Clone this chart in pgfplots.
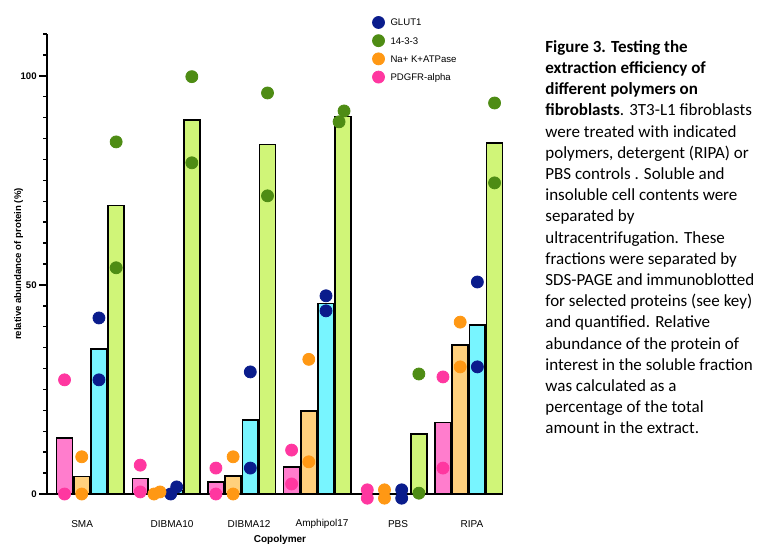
\documentclass[border=0pt]{standalone}
\usepackage{fontspec}
\setmainfont{Liberation Sans}
\newfontfamily\capfont{Carlito}
\usepackage{pgfplots}
\pgfplotsset{compat=1.18}
\definecolor{bpink}{RGB}{255,125,205}
\definecolor{borange}{RGB}{255,208,125}
\definecolor{bcyan}{RGB}{120,245,255}
\definecolor{bgreen}{RGB}{208,245,120}
\definecolor{dpink}{RGB}{255,55,160}
\definecolor{dorange}{RGB}{255,152,20}
\definecolor{dblue}{RGB}{10,28,140}
\definecolor{dgreen}{RGB}{78,140,20}
\begin{document}
\begin{tikzpicture}
\useasboundingbox (0,0) rectangle (380pt,271.5pt);
\begin{axis}[
  at={(23.5pt,24.5pt)}, anchor=south west,
  scale only axis, width=228pt, height=230pt,
  xmin=-1.02, xmax=25.49, ymin=0, ymax=110,
  axis x line*=bottom, axis y line*=left,
  axis line style={line width=1pt, -},
  clip=false,
  xtick={1.02,6.25,10.73,14.97,19.39,23.69},
  xticklabels={SMA,DIBMA10,DIBMA12,Amphipol17,PBS,RIPA},
  xtick style={draw=none},
  xticklabel style={font=\fontsize{5}{6}\selectfont, anchor=center, yshift=-11pt},
  ytick={0,50,100},
  minor ytick={5,10,...,110},
  tick align=outside, major tick length=4pt, minor tick length=2pt,
  ytick style={line width=0.7pt, black},
  yticklabel style={font=\bfseries\fontsize{4.8}{5}\selectfont, inner sep=1pt},
  /pgf/number format/assume math mode=true,
  xlabel={Copolymer},
  ylabel={relative abundance of protein (\%)},
  xlabel style={font=\bfseries\fontsize{5}{6}\selectfont, at={(axis description cs:0.511,-0.1)}, anchor=center},
  ylabel style={font=\bfseries\fontsize{4.8}{6}\selectfont, at={(axis description cs:-0.062,0.5)}, anchor=center},
  legend style={at={(axis description cs:0.713,1.039)}, anchor=north west, draw=none, fill=none,
    font=\fontsize{4.8}{5.5}\selectfont, inner sep=0pt, row sep=3.1pt,
    nodes={inner sep=0.5pt, text height=3.5pt, text depth=0pt}},
  legend cell align=left,
  legend image code/.code={\path[draw=none,fill=none] (0pt,0pt) -- (8.5pt,0pt); \draw[#1] plot coordinates {(3pt,0pt)};},
]
% bars
\addplot[ybar, bar width=0.92, bar shift=0pt, fill=bpink, draw=black, line width=0.8pt, forget plot]
  coordinates {(0,13.4) (4.4,3.7) (8.8,2.9) (13.2,6.4) (22,17.1)};
\addplot[ybar, bar width=0.92, bar shift=0pt, fill=borange, draw=black, line width=0.8pt, forget plot]
  coordinates {(1,4.2) (5.4,0.25) (9.8,4.3) (14.2,19.8) (23,35.6)};
\addplot[ybar, bar width=0.92, bar shift=0pt, fill=bcyan, draw=black, line width=0.8pt, forget plot]
  coordinates {(2,34.7) (6.4,0.85) (10.8,17.7) (15.2,45.6) (24,40.4)};
\addplot[ybar, bar width=0.92, bar shift=0pt, fill=bgreen, draw=black, line width=0.8pt, forget plot]
  coordinates {(3,69.0) (7.4,89.5) (11.8,83.6) (16.2,90.3) (20.6,14.4) (25,84.0)};
% dots
\addplot[only marks, mark=*, mark size=3pt, color=dblue]
  coordinates {(2,42.1) (2,27.3) (6.17,0) (6.52,1.7) (10.8,29.2) (10.8,6.2) (15.2,47.4) (15.2,43.8) (19.6,1) (19.6,-1) (24,50.7) (24,30.4)};
\addlegendentry{GLUT1}
\addplot[only marks, mark=*, mark size=3pt, color=dgreen]
  coordinates {(3,84.2) (3,54.1) (7.4,99.8) (7.4,79.2) (11.8,95.9) (11.8,71.3) (16.25,91.6) (15.96,89.0) (20.6,28.7) (20.6,0.2) (25,93.5) (25,74.4)};
\addlegendentry{14-3-3}
\addplot[only marks, mark=*, mark size=3pt, color=dorange]
  coordinates {(1,8.9) (1,0) (5.2,0) (5.55,0.5) (9.8,8.9) (9.8,0) (14.2,32.2) (14.2,7.7) (18.6,1) (18.6,-1) (23,41.1) (23,30.4)};
\addlegendentry{Na+ K+ATPase}
\addplot[only marks, mark=*, mark size=3pt, color=dpink]
  coordinates {(0,27.3) (0,0) (4.4,6.9) (4.4,0.5) (8.8,6.2) (8.8,0) (13.2,10.5) (13.2,2.4) (17.6,1) (17.6,-1) (22,28.0) (22,6.2)};
\addlegendentry{PDGFR-alpha}
\end{axis}
\node[anchor=north west, inner sep=0pt, align=left, font=\capfont\fontsize{8.5}{10.6}\selectfont] at (272.5pt,251.5pt)
{\textbf{Figure 3. Testing the}\\
\textbf{extraction efficiency of}\\
\textbf{different polymers on}\\
\textbf{fibroblasts}. 3T3-L1 fibroblasts\\
were treated with indicated\\
polymers, detergent (RIPA) or\\
PBS controls . Soluble and\\
insoluble cell contents were\\
separated by\\
ultracentrifugation. These\\
fractions were separated by\\
SDS-PAGE and immunoblotted\\
for selected proteins (see key)\\
and quantified. Relative\\
abundance of the protein of\\
interest in the soluble fraction\\
was calculated as a\\
percentage of the total\\
amount in the extract.};
\end{tikzpicture}
\end{document}
